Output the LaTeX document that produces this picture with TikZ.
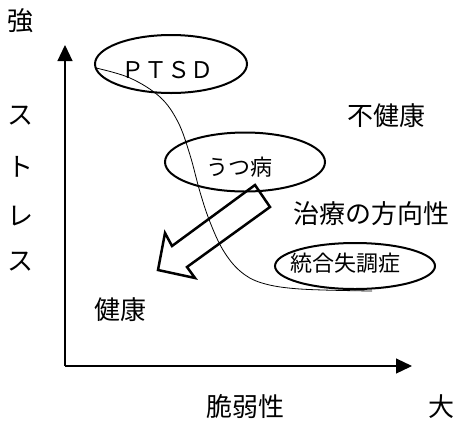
\documentclass[tikz,border=0pt]{standalone}
\usepackage{fontspec}
\newfontfamily\jp{Noto Sans CJK JP}
\usetikzlibrary{arrows.meta}
\begin{document}
\begin{tikzpicture}[x=1pt,y=-1pt,
  big/.style={font=\jp\fontsize{26}{26}\selectfont, inner sep=0pt, anchor=center},
  small/.style={font=\jp\fontsize{22}{22}\selectfont, inner sep=0pt, anchor=center},
  axis/.style={line width=1.2pt, -{Triangle[length=16pt,width=15pt]}},
  oval/.style={line width=2pt},
  blockarrow/.style={line width=2.5pt, line join=miter}]
\useasboundingbox (0,0) rectangle (457,421);
% axes
\coordinate (O) at (65,366);
\coordinate (Ytip) at (65,45);
\coordinate (Xtip) at (412,366);
\draw[axis] (O) -- (Ytip);
\draw[axis] (O) -- (Xtip);
% axis labels
\node[big] (strong) at (21,21) {強};
\node[big] (s1) at (21,116) {ス};
\node[big] (s2) at (21,167) {ト};
\node[big] (s3) at (21,216) {レ};
\node[big] (s4) at (21,262) {ス};
\node[big] (vuln) at (245,407) {脆弱性};
\node[big] (large) at (441,407) {大};
\node[big] (unhealthy) at (386,116) {不健康};
\node[big] (healthy) at (120,310) {健康};
\node[big] (dir) at (371,214) {治療の方向性};
% curve
\draw[line width=0.8pt] plot[smooth, tension=0.6] coordinates {(96,68) (130,78) (160,97) (178,122) (190,155) (200,192) (210,222) (223,250) (240,271) (262,283) (300,289) (372,291)};
% ellipses
\draw[oval] (171,64) ellipse (76pt and 29pt);
\draw[oval] (245,162) ellipse (80pt and 29.5pt);
\draw[oval] (355,266) ellipse (80pt and 23pt);
\node[small] (ptsd) at (167,70) {\fontsize{23}{23}\selectfont ＰＴＳＤ};
\node[small] (utsu) at (239,167) {うつ病};
\node[small] (schizo) at (345,263) {統合失調症};
% block arrow
\draw[blockarrow] (255,185) -- (270,207) -- (187,267) -- (195,278) -- (158,270) -- (165,233) -- (172,246) -- cycle;
\end{tikzpicture}
\end{document}
